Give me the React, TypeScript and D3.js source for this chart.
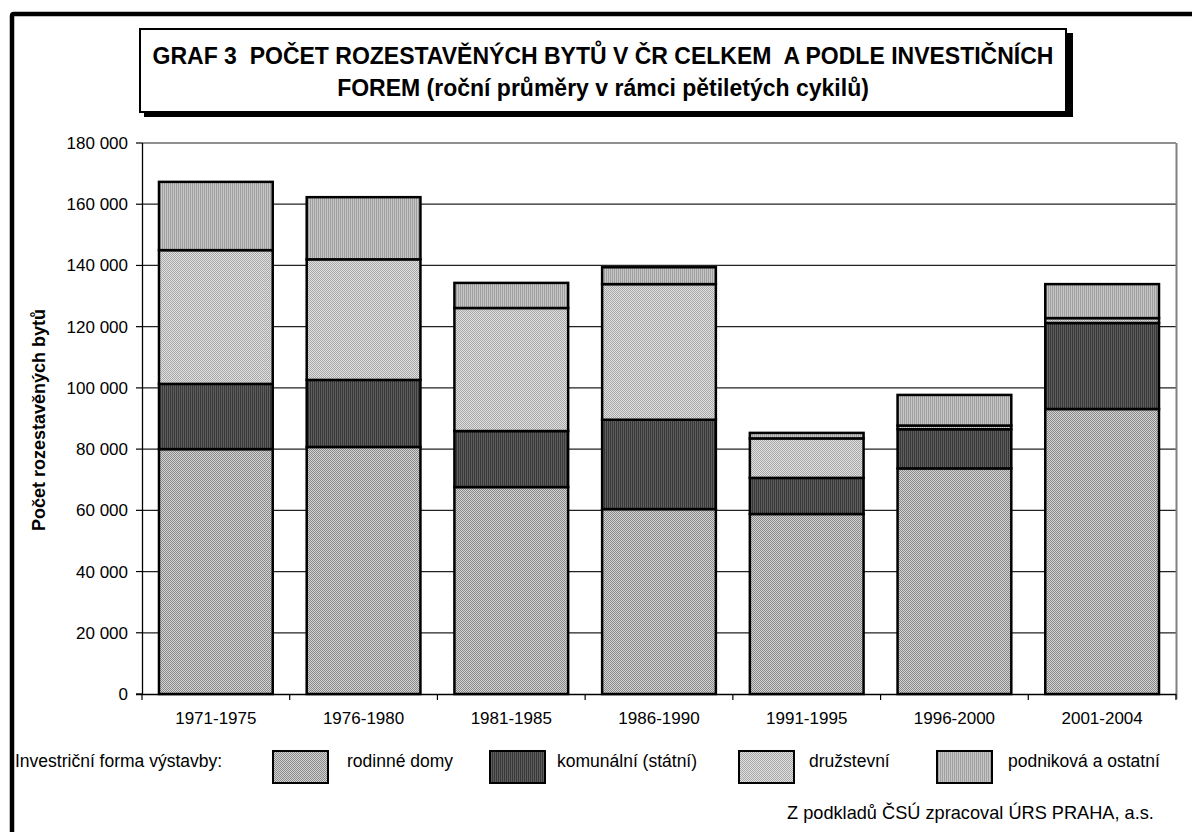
import React from "react";
import * as d3 from "d3";

const categories = ["1971-1975", "1976-1980", "1981-1985", "1986-1990", "1991-1995", "1996-2000", "2001-2004"];
const rodinneDomy = [80000, 80700, 67600, 60400, 58800, 73700, 93100];
const komunalni = [21300, 21900, 18300, 29200, 11800, 12800, 28100];
const druzstevni = [43700, 39400, 40200, 44300, 12900, 1200, 1600];
const podnikova = [22300, 20300, 8200, 5500, 1800, 10000, 11100];
const seriesNames = ["rodinné domy", "komunální (státní)", "družstevní", "podniková a ostatní"];
const yTicks = [0, 20000, 40000, 60000, 80000, 100000, 120000, 140000, 160000, 180000];

const W = 1192;
const H = 832;
const FONT = "'Liberation Sans', Arial, sans-serif";

const patternIds = ["pRod", "pKom", "pDru", "pPod"];

export default function App() {
  const x = d3.scaleBand<string>().domain(categories).range([142, 1176]).paddingInner(0.23).paddingOuter(0.115);
  const y = d3.scaleLinear().domain([0, 180000]).range([694, 143]);
  const rows = categories.map((c, i) => ({
    cat: c,
    s0: rodinneDomy[i],
    s1: komunalni[i],
    s2: druzstevni[i],
    s3: podnikova[i],
  }));
  const stack = d3.stack<any>().keys(["s0", "s1", "s2", "s3"]);
  const stacked = stack(rows);
  const fmt = d3.formatLocale({ decimal: ",", thousands: " ", grouping: [3], currency: ["", ""] }).format(",");
  const step = x.step();
  const boundaries = d3.range(categories.length + 1).map((i) => 142 + i * step);

  const legendBoxes = [273, 490, 739, 937];
  const legendLabels = [347, 557, 809, 1008];

  return (
    <svg width={W} height={H} style={{ position: "absolute", left: 0, top: 0, background: "#fff" }} xmlns="http://www.w3.org/2000/svg">
      <defs>
        <pattern id="pRod" patternUnits="userSpaceOnUse" width="2" height="2">
          <rect width="2" height="2" fill="#d2d2d2" />
          <rect x="0" y="0" width="1" height="1" fill="#8a8a8a" />
          <rect x="1" y="1" width="1" height="1" fill="#8a8a8a" />
        </pattern>
        <pattern id="pKom" patternUnits="userSpaceOnUse" width="2" height="2">
          <rect width="2" height="2" fill="#5e5e5e" />
          <rect x="0" y="0" width="1" height="2" fill="#383838" />
        </pattern>
        <pattern id="pDru" patternUnits="userSpaceOnUse" width="2" height="2">
          <rect width="2" height="2" fill="#e0e0e0" />
          <rect x="0" y="0" width="1" height="1" fill="#a8a8a8" />
          <rect x="1" y="1" width="1" height="1" fill="#a8a8a8" />
        </pattern>
        <pattern id="pPod" patternUnits="userSpaceOnUse" width="2" height="2">
          <rect width="2" height="2" fill="#c6c6c6" />
          <rect x="0" y="0" width="1" height="2" fill="#a0a0a0" />
        </pattern>
      </defs>

      {/* outer frame */}
      <path d={`M12,${H} L12,16 Q12,14 14,14 L${W},14`} fill="none" stroke="#000" strokeWidth={4.5} />

      {/* title box with shadow */}
      <rect x={144} y={33} width={929} height={84} fill="#000" />
      <rect x={140} y={29} width={926} height={83} fill="#fff" stroke="#000" strokeWidth={2} />
      <text x={603} y={64} textAnchor="middle" fontFamily={FONT} fontWeight="bold" fontSize={23} style={{ whiteSpace: "pre" }}>
        {"GRAF 3  POČET ROZESTAVĚNÝCH BYTŮ V ČR CELKEM  A PODLE INVESTIČNÍCH"}
      </text>
      <text x={603} y={96} textAnchor="middle" fontFamily={FONT} fontWeight="bold" fontSize={23} style={{ whiteSpace: "pre" }}>
        {"FOREM (roční průměry v rámci pětiletých cykilů)"}
      </text>

      {/* gridlines */}
      {yTicks.filter((t) => t > 0).map((t) => (
        <line key={t} x1={142} x2={1176} y1={y(t)} y2={y(t)} stroke="#222" strokeWidth={1.2} />
      ))}
      {/* right plot border */}
      <line x1={1176.5} x2={1176.5} y1={143} y2={699} stroke="#808080" strokeWidth={2} />

      {/* bars */}
      {stacked.map((layer, si) => (
        <g key={si}>
          {layer.map((d: any, i: number) => (
            <rect
              key={i}
              x={x(categories[i])!}
              y={y(d[1])}
              width={x.bandwidth()}
              height={y(d[0]) - y(d[1])}
              fill={`url(#${patternIds[si]})`}
              stroke="#000"
              strokeWidth={2.5}
            />
          ))}
        </g>
      ))}

      {/* axes */}
      <line x1={142.5} x2={142.5} y1={143} y2={694.5} stroke="#000" strokeWidth={1.3} />
      <line x1={136} x2={1176} y1={694.5} y2={694.5} stroke="#000" strokeWidth={1.3} />
      {yTicks.map((t) => (
        <g key={t}>
          <line x1={136} x2={142} y1={y(t)} y2={y(t)} stroke="#000" strokeWidth={1.2} />
          <text x={128} y={y(t) + 6} textAnchor="end" fontFamily={FONT} fontSize={17}>
            {fmt(t)}
          </text>
        </g>
      ))}
      {boundaries.map((b, i) => (
        <line key={i} x1={b} x2={b} y1={694} y2={700} stroke="#000" strokeWidth={1.2} />
      ))}
      {categories.map((c) => (
        <text key={c} x={x(c)! + x.bandwidth() / 2} y={724} textAnchor="middle" fontFamily={FONT} fontSize={17}>
          {c}
        </text>
      ))}

      {/* y title */}
      <text
        transform={`translate(45,${420}) rotate(-90)`}
        textAnchor="middle"
        fontFamily={FONT}
        fontWeight="bold"
        fontSize={18}
      >
        Počet rozestavěných bytů
      </text>

      {/* legend */}
      <text x={15} y={767} fontFamily={FONT} fontSize={17.5}>
        Investriční forma výstavby:
      </text>
      {seriesNames.map((n, i) => (
        <g key={n}>
          <rect x={legendBoxes[i]} y={751} width={55} height={32} fill={`url(#${patternIds[i]})`} stroke="#000" strokeWidth={2} />
          <text x={legendLabels[i]} y={767} fontFamily={FONT} fontSize={17.5}>
            {n}
          </text>
        </g>
      ))}

      {/* source */}
      <text x={787} y={819} fontFamily={FONT} fontSize={18.2}>
        Z podkladů ČSÚ zpracoval ÚRS PRAHA, a.s.
      </text>
    </svg>
  );
}
